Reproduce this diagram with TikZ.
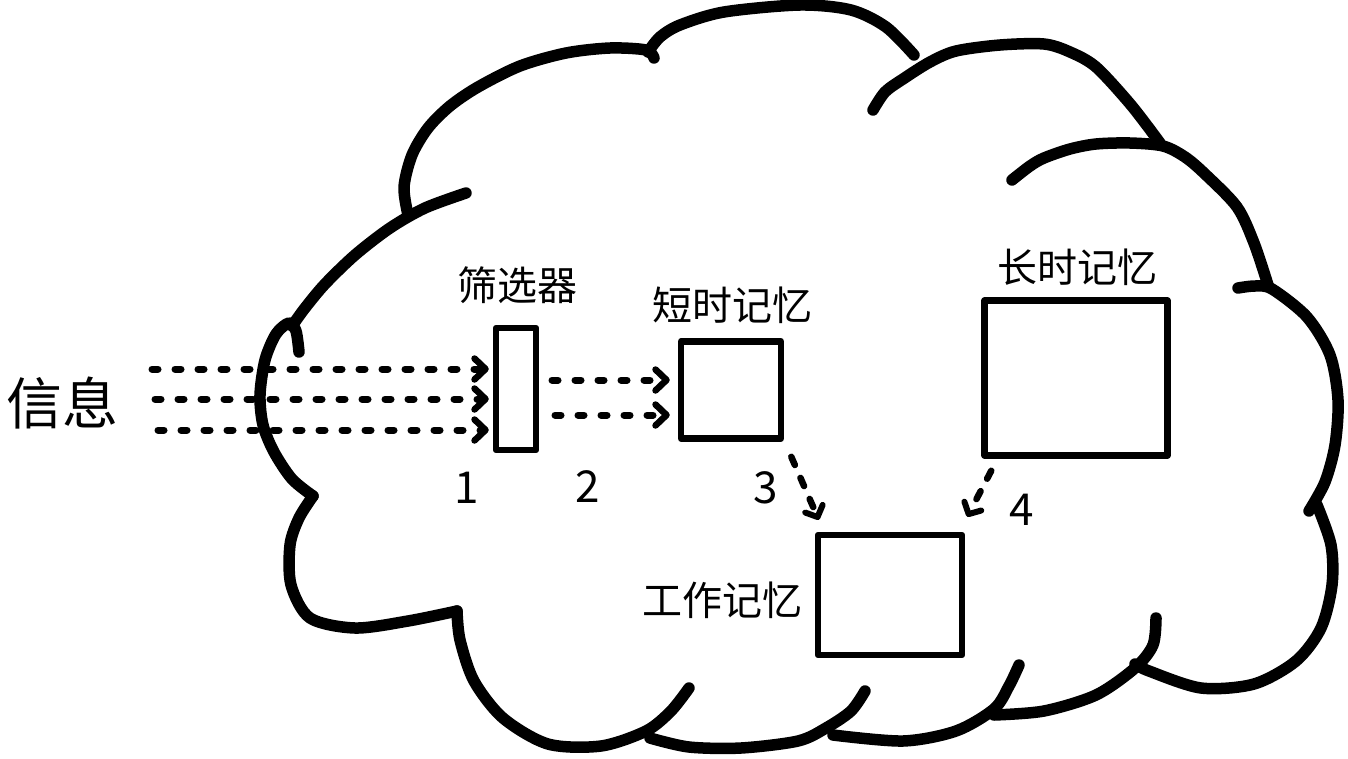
\documentclass[tikz,border=0pt]{standalone}
\usepackage{fontspec}
\setmainfont{Noto Sans CJK SC}
\usetikzlibrary{arrows.meta,calc}
\begin{document}
\begin{tikzpicture}[x=1pt,y=-1pt,
  cloudline/.style={line width=11.5pt,line cap=round,line join=round},
  box/.style={draw,line width=6.5pt,rectangle,inner sep=0pt,line join=round},
  flow/.style={line width=7pt,line cap=round,dash pattern=on 6pt off 17pt,-{Straight Barb[length=11pt,width=21pt,round,line width=6.5pt]}},
  dflow/.style={line width=6.5pt,line cap=round,dash pattern=on 9pt off 14pt,-{Straight Barb[length=9pt,width=19pt,round,line width=6pt]}},
  lbl/.style={inner sep=0pt,font=\fontsize{40pt}{48pt}\selectfont},
  big/.style={inner sep=0pt,font=\fontsize{56pt}{64pt}\selectfont},
  num/.style={inner sep=0pt,font=\fontsize{44pt}{52pt}\selectfont}]
\fill[white] (0,0) rectangle (1348,758);
\useasboundingbox (0,0) rectangle (1348,758);

% cloud outline
\draw[cloudline] plot[smooth] coordinates {(299,352) (296,331) (289,323) (276,334) (265,360) (260,395) (263,425) (274,452) (292,479) (313,496)};
\draw[cloudline] plot[smooth] coordinates {(292,326) (305,308) (325,284) (355,255) (390,228) (425,208) (466,193)};
\draw[cloudline] plot[smooth] coordinates {(408,215) (404,187) (412,155) (428,128) (450,106) (478,87) (520,66) (566,53) (610,48) (646,50) (654,58)};
\draw[cloudline] plot[smooth] coordinates {(648,52) (660,37) (680,25) (724,12) (800,5) (851,10) (886,27) (914,55)};
\draw[cloudline] plot[smooth] coordinates {(873,110) (885,92) (903,79) (930,62) (956,51) (1000,45) (1044,44) (1070,52) (1096,67) (1131,105) (1160,143)};
\draw[cloudline] plot[smooth] coordinates {(1012,180) (1030,166) (1044,158) (1070,149) (1096,144) (1130,143) (1163,146) (1185,157) (1205,174) (1237,207) (1254,243) (1268,285)};
\draw[cloudline] plot[smooth] coordinates {(1238,288) (1255,286) (1272,289) (1307,317) (1330,355) (1338,400) (1335,445) (1325,482) (1309,511)};
\draw[cloudline] plot[smooth] coordinates {(1317,505) (1331,545) (1332,585) (1321,628) (1296,661) (1254,684) (1201,688) (1149,671) (1135,664)};
\draw[cloudline] plot[smooth] coordinates {(1156,618) (1153,645) (1135,668) (1096,695) (1044,711) (994,715)};
\draw[cloudline] plot[smooth] coordinates {(1019,665) (1009,686) (994,709) (956,731) (903,741) (833,735)};
\draw[cloudline] plot[smooth] coordinates {(865,691) (851,711) (826,728) (798,741) (741,748) (689,747) (650,738)};
\draw[cloudline] plot[smooth] coordinates {(689,688) (671,711) (646,731) (601,746) (548,744) (503,718) (474,681) (460,640) (457,611)};
\draw[cloudline] plot[smooth] coordinates {(457,611) (408,621) (355,628) (310,618) (291,585) (290,545) (299,518) (313,496)};

% boxes
\node[box,minimum width=40pt,minimum height=122pt] (filter) at (516,389) {};
\node[box,minimum width=100pt,minimum height=97pt] (stm) at (731,390) {};
\node[box,minimum width=183pt,minimum height=155pt] (ltm) at (1076,378) {};
\node[box,minimum width=144pt,minimum height=120pt] (wm) at (890,595) {};

% labels
\node[big] (info) at (62,403) {信息};
\node[lbl] (lfilter) at (517,285) {筛选器};
\node[lbl] (lstm) at (732,305) {短时记忆};
\node[lbl] (lltm) at (1077,267) {长时记忆};
\node[lbl] (lwm) at (722,600) {工作记忆};
\node[num] (n1) at (467,488) {1};
\node[num] (n2) at (588,487) {2};
\node[num] (n3) at (766,488) {3};
\node[num] (n4) at (1022,510) {4};

% input flows
\coordinate (i1) at (152,369);
\coordinate (i2) at (155,399);
\coordinate (i3) at (158,430);
\draw[flow,shorten >=4pt] (i1) -- (i1 -| filter.west);
\draw[flow,shorten >=4pt] (i2) -- (i2 -| filter.west);
\draw[flow,shorten >=4pt] (i3) -- (i3 -| filter.west);

% filter to short-term memory
\coordinate (f1) at (552,380);
\coordinate (f2) at (555,415);
\draw[flow,shorten >=8pt] (f1) -- (f1 -| stm.west);
\draw[flow,shorten >=8pt] (f2) -- (f2 -| stm.west);

% short-term -> working, long-term -> working
\draw[dflow] ($(stm.south east)+(7,15)$) -- ($(wm.north west)+(4,-12)$);
\draw[dflow] ($(ltm.south west)+(10,12)$) -- ($(wm.north east)+(2,-15)$);
\end{tikzpicture}
\end{document}
